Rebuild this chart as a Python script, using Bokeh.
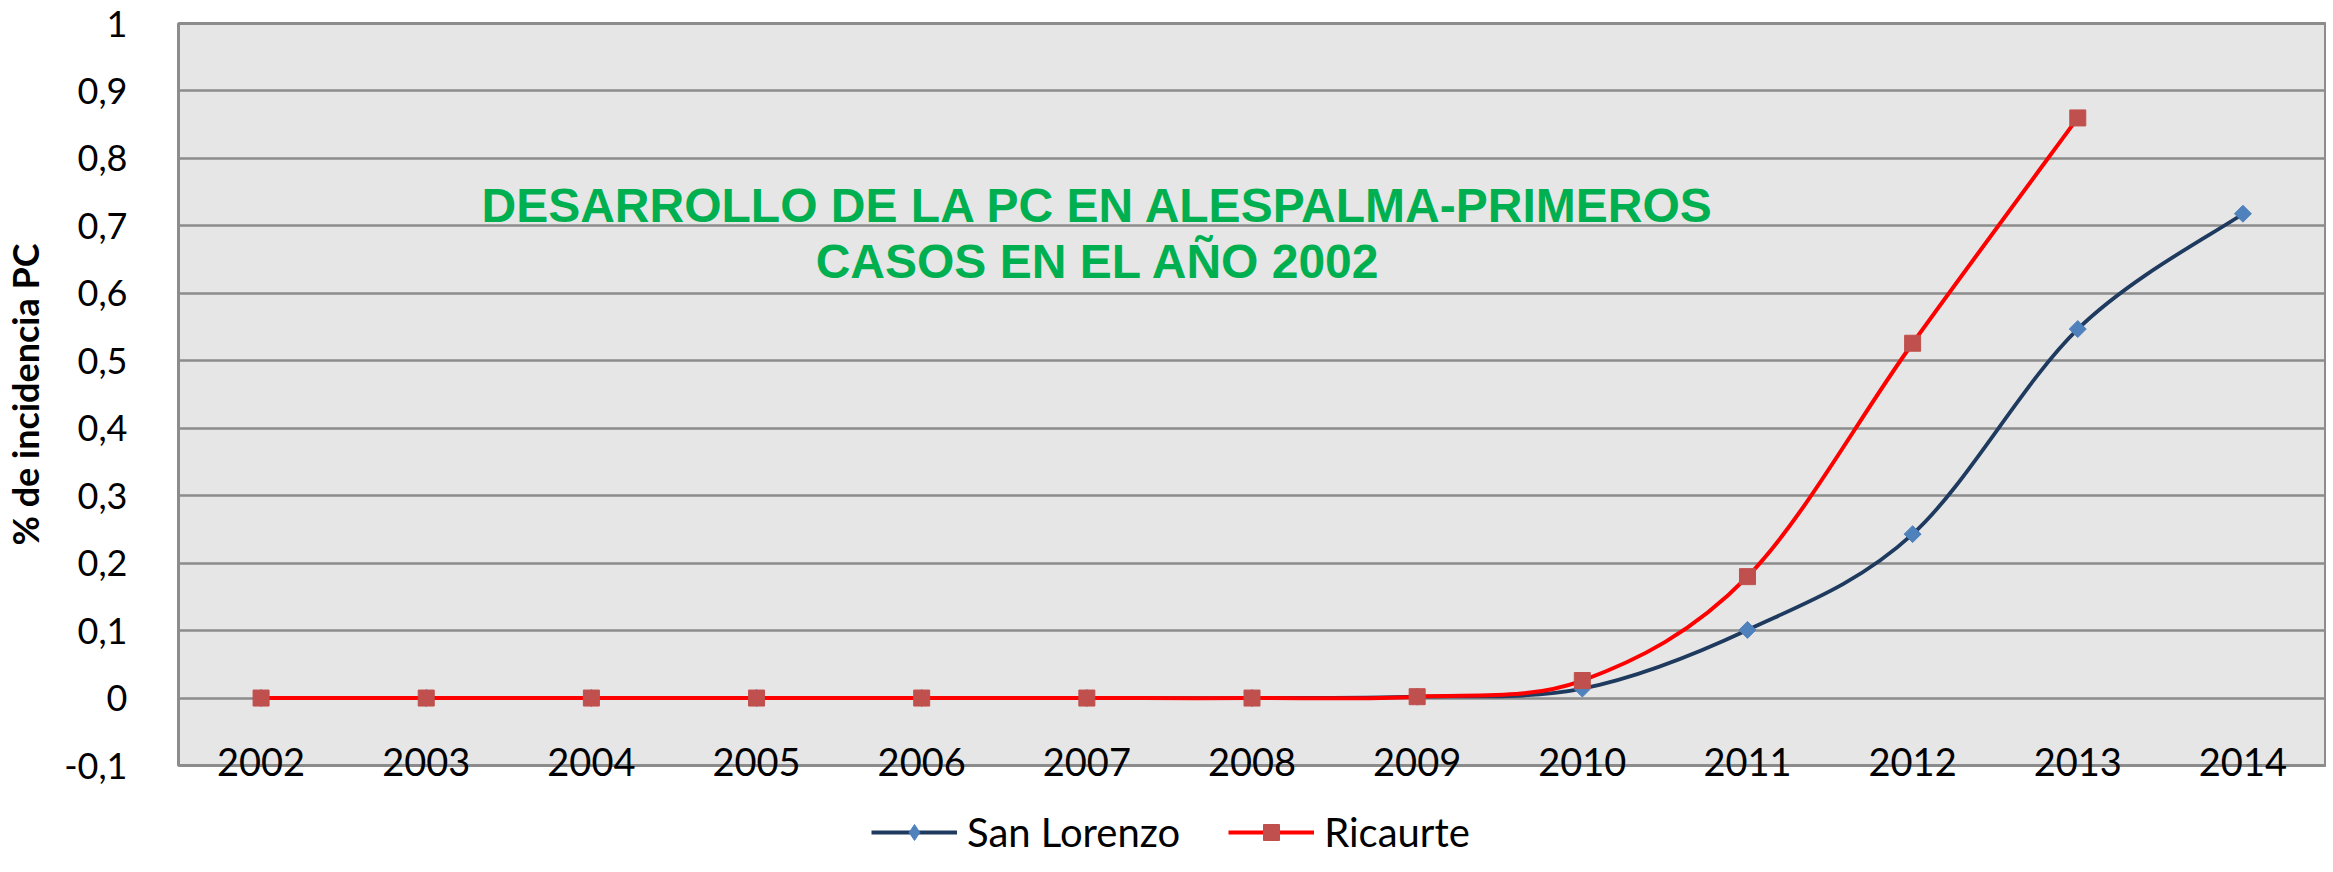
import math
from bokeh.plotting import figure
from bokeh.layouts import column
from bokeh.models import (Range1d, FixedTicker, CustomJSTickFormatter, Label,
                          Legend, LegendItem, ColumnDataSource, LinearAxis)
from bokeh.embed import file_html
from bokeh.resources import INLINE

# ---------------- data ----------------
years = [2002, 2003, 2004, 2005, 2006, 2007, 2008, 2009, 2010, 2011, 2012, 2013, 2014]
year_labels = ["2002", "2003", "2004", "2005", "2006", "2007", "2008", "2009",
               "2010", "2011", "2012", "2013", "2014"]
san_lorenzo = [0, 0, 0, 0, 0, 0, 0, 0.002, 0.014, 0.101, 0.243, 0.547, 0.718]
ricaurte_years = [2002, 2003, 2004, 2005, 2006, 2007, 2008, 2009, 2010, 2011, 2012, 2013]
ricaurte = [0, 0, 0, 0, 0, 0, 0, 0.002, 0.026, 0.180, 0.526, 0.860]
y_ticks = [-0.1, 0.0, 0.1, 0.2, 0.3, 0.4, 0.5, 0.6, 0.7, 0.8, 0.9, 1.0]
title_lines = ["DESARROLLO DE LA PC EN ALESPALMA-PRIMEROS", "CASOS EN EL AÑO 2002"]
y_title = "% de incidencia PC"
series_names = ["San Lorenzo", "Ricaurte"]

# ---------------- helpers ----------------
def smooth_segments(xs, ys):
    """Bezier segments (Excel-like smoothed line) through the data points."""
    n = len(xs)
    d = dict(x0=[], y0=[], x1=[], y1=[], cx0=[], cy0=[], cx1=[], cy1=[])
    for i in range(n - 1):
        a = i - 1 if i > 0 else i
        b = i + 2 if i + 2 < n else i + 1
        d["x0"].append(xs[i]); d["y0"].append(ys[i])
        d["x1"].append(xs[i + 1]); d["y1"].append(ys[i + 1])
        d["cx0"].append(xs[i] + (xs[i + 1] - xs[a]) / 6.0)
        d["cy0"].append(ys[i] + (ys[i + 1] - ys[a]) / 6.0)
        d["cx1"].append(xs[i + 1] - (xs[b] - xs[i]) / 6.0)
        d["cy1"].append(ys[i + 1] - (ys[b] - ys[i]) / 6.0)
    return ColumnDataSource(d)

NAVY = "#1F3A5F"
BLUE_MK = "#4F81BD"
RED = "#FF0000"
RED_MK = "#C0504D"
GRID = "#8C8C8C"

TOP, FRAME_H, BOTTOM = 23, 742, 24
MAIN_H = TOP + FRAME_H + BOTTOM

# ---------------- main chart ----------------
p = figure(frame_width=2147, frame_height=FRAME_H, output_backend="svg", toolbar_location=None,
           x_range=Range1d(2001.5, 2014.5), y_range=Range1d(-0.1, 1.0),
           x_axis_location=None, title=None,
           min_border_left=169, min_border_right=1, min_border_top=TOP,
           min_border_bottom=BOTTOM)

p.background_fill_color = "#E6E6E6"
p.border_fill_color = "white"
p.outline_line_color = GRID
p.outline_line_width = 3

p.xgrid.visible = False
p.ygrid.ticker = FixedTicker(ticks=y_ticks)
p.ygrid.grid_line_color = GRID
p.ygrid.grid_line_width = 2.5

ax = p.yaxis[0]
ax.ticker = FixedTicker(ticks=y_ticks)
ax.formatter = CustomJSTickFormatter(code="""
    const s = tick.toFixed(1).replace('.', ',');
    return s.endsWith(',0') ? s.slice(0, -2) : s;
""")
ax.axis_line_color = None
ax.major_tick_line_color = None
ax.minor_tick_line_color = None
ax.major_label_text_font = "Lato"
ax.major_label_text_font_size = "36px"
ax.major_label_text_color = "black"
ax.major_label_standoff = 45
ax.axis_label = y_title
ax.axis_label_text_font = "Lato"
ax.axis_label_text_font_style = "bold"
ax.axis_label_text_font_size = "36px"
ax.axis_label_text_color = "black"
ax.axis_label_standoff = 14

# category axis: labels drawn just inside the bottom of the plot area
xax = LinearAxis(ticker=FixedTicker(ticks=years),
                 major_label_overrides={y: s for y, s in zip(years, year_labels)})
xax.axis_line_color = None
xax.major_tick_line_color = None
xax.minor_tick_line_color = None
xax.major_tick_out = 0
xax.major_tick_in = 0
xax.major_label_standoff = -18
xax.major_label_text_font = "Lato"
xax.major_label_text_font_size = "38px"
xax.major_label_text_color = "black"
p.add_layout(xax, "below")

# San Lorenzo
p.bezier(source=smooth_segments(years, san_lorenzo), x0="x0", y0="y0", x1="x1", y1="y1",
         cx0="cx0", cy0="cy0", cx1="cx1", cy1="cy1",
         line_color=NAVY, line_width=3.8, line_cap="round")
p.scatter(years, san_lorenzo, marker="square", size=12, angle=math.pi / 4,
          fill_color=BLUE_MK, line_color=BLUE_MK)
# Ricaurte
p.bezier(source=smooth_segments(ricaurte_years, ricaurte), x0="x0", y0="y0", x1="x1", y1="y1",
         cx0="cx0", cy0="cy0", cx1="cx1", cy1="cy1",
         line_color=RED, line_width=4, line_cap="round")
p.scatter(ricaurte_years, ricaurte, marker="square", size=16,
          fill_color=RED_MK, line_color=RED_MK)

# chart title inside the plot area
for txt, yv in zip(title_lines, [0.7309, 0.6479]):
    p.add_layout(Label(x=2007.07, y=yv, text=txt, text_align="center",
                       text_baseline="middle", text_font="Liberation Sans",
                       text_font_style="bold", text_font_size="48px",
                       text_color="#00B050"))

# ---------------- legend strip below the chart ----------------
lf = figure(width=2317, height=856 - MAIN_H, output_backend="svg", toolbar_location=None,
            x_range=Range1d(2001.5, 2014.5), y_range=Range1d(-0.1, 1.0),
            x_axis_location=None, y_axis_location=None, title=None,
            min_border_left=0, min_border_right=0, min_border_top=0, min_border_bottom=0)
lf.outline_line_color = None
lf.background_fill_color = "white"
lf.xgrid.visible = False
lf.ygrid.visible = False

sl_line = lf.line(years, san_lorenzo, line_color=NAVY, line_width=3.8, visible=False)
sl_mark = lf.scatter(years, san_lorenzo, marker="diamond",
                     fill_color=BLUE_MK, line_color=BLUE_MK, visible=False)
r_line = lf.line(ricaurte_years, ricaurte, line_color=RED, line_width=4, visible=False)
r_mark = lf.scatter(ricaurte_years, ricaurte, marker="square",
                    fill_color=RED_MK, line_color=RED_MK, visible=False)

legend = Legend(items=[LegendItem(label=series_names[0], renderers=[sl_line, sl_mark]),
                       LegendItem(label=series_names[1], renderers=[r_line, r_mark])],
                orientation="horizontal", location=(693, 0),
                glyph_width=86, glyph_height=40, label_height=40,
                label_standoff=10, spacing=48, padding=0, margin=0,
                label_text_font="Lato", label_text_font_size="40px",
                label_text_color="black", inactive_fill_alpha=0,
                border_line_color=None, background_fill_alpha=0)
lf.add_layout(legend)

open("out.html", "w").write(file_html(column(p, lf, spacing=0), INLINE))
